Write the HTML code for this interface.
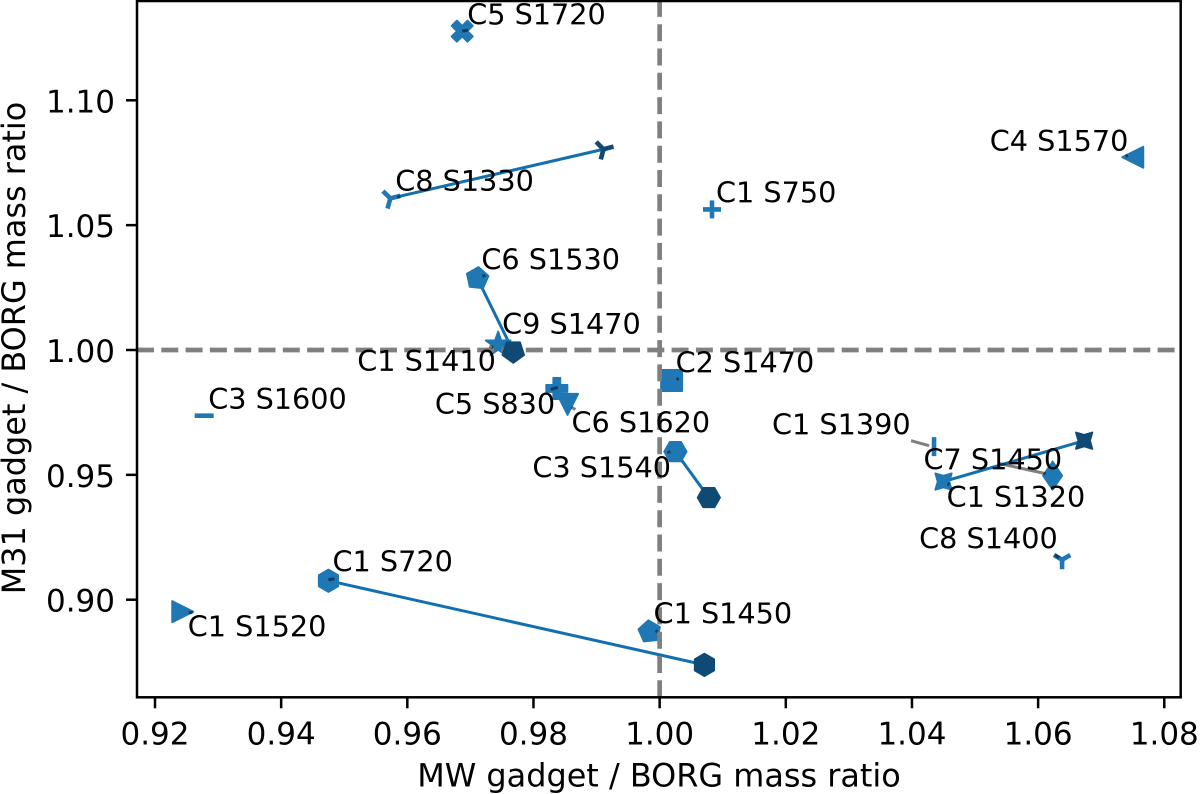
<!DOCTYPE html>
<html lang="en">
<head>
<meta charset="utf-8">
<title>M31 vs MW gadget / BORG mass ratio</title>
<style>
html,body{margin:0;padding:0;background:#fff;}
svg{display:block;font-family:"DejaVu Sans","Liberation Sans",sans-serif;}
</style>
</head>
<body>
<svg id="chart" width="1200" height="794" viewBox="0 0 1200 794" xmlns="http://www.w3.org/2000/svg"></svg>
<script>
const xTicks = [0.92, 0.94, 0.96, 0.98, 1.00, 1.02, 1.04, 1.06, 1.08];
const yTicks = [0.90, 0.95, 1.00, 1.05, 1.10];
const xTitle = 'MW gadget / BORG mass ratio';
const yTitle = 'M31 gadget / BORG mass ratio';
const pointLabels = ['C5 S1720','C8 S1330','C1 S750','C4 S1570','C6 S1530','C1 S1410','C9 S1470','C2 S1470','C5 S830','C6 S1620','C3 S1540','C1 S1390','C7 S1450','C1 S1320','C8 S1400','C1 S720','C1 S1520','C1 S1450','C3 S1600'];
const mwRatio  = [0.9687,0.9573,1.0083,1.0750,0.9711,0.9768,0.9744,1.0019,0.9837,0.9854,1.0025,1.0435,1.0450,1.0623,1.0638,0.9475,0.9244,0.9984,0.9278];
const m31Ratio = [1.1277,1.0607,1.0563,1.0772,1.0287,0.9994,1.0022,0.9878,0.9846,0.9782,0.9593,0.9613,0.9473,0.9497,0.9160,0.9076,0.8952,0.8872,0.9737];
const mwRatioEnd  = [null,0.9911,null,null,0.9768,null,null,null,null,null,1.0078,null,1.0673,null,null,1.0071,null,null,null];
const m31RatioEnd = [null,1.0804,null,null,0.9994,null,null,null,null,null,0.9409,null,0.9637,null,null,0.8739,null,null,null];
const markerKinds = ['x','y-rot','plus','left','pent-a','pent-c','star','square','P','down','hex-flat','vbar','star4','diamond','y','hex','right','pent-b','hbar'];

/* layout: label offset from its marker (dx, baseline dy), and leader stub offsets */
const labelLayout = {
 'C5 S1720':[5,-6.5,0,0,6,-1],'C8 S1330':[5,-7.5,7,-1,10,-2],'C1 S750':[4,-7,0,0,0,0],'C4 S1570':[-143,-6,-7,-1,-5,-2],
 'C6 S1530':[4,-9,5,-2,8,-3],'C1 S1410':[-156,19.5,-24,-5,-20,-4],'C9 S1470':[4,-10.5,0,0,0,0],'C2 S1470':[4,-8,5,-1,7,-2],
 'C5 S830':[-122,25.5,-6,1,1,-1],'C6 S1620':[4,28,4,3,8,5],'C3 S1540':[-143,26,-8,1,-5,0],'C1 S1390':[-162,-12,-23,-6,-5,-1],
 'C7 S1450':[-20,-12,4,2,6,3],'C1 S1320':[-106,31.5,-53,-12,-7,-2],'C8 S1400':[-143,-11,-7,-5,-3,-2],'C1 S720':[4,-9,0,-1,6,-2],
 'C1 S1520':[5,25,6,1,10,1],'C1 S1450':[4,-8,6,-1,8,0],'C3 S1600':[4,-6.5,0,0,0,0]
};

const NS = 'http://www.w3.org/2000/svg';
const svg = document.getElementById('chart');
const axLeft = 137, axRight = 1180.7, axTop = 1, axBottom = 697.3;
const xScale = v => 155 + (v - 0.92) * 6308;
const yScale = v => 350 - (v - 1) * 2497;
const BLUE = '#1f77b4', DARK = '#0f4a75', LINE = '#1270b0';

function make(tag, attrs, parent) {
  const el = document.createElementNS(NS, tag);
  for (const k in attrs) el.setAttribute(k, attrs[k]);
  (parent || svg).appendChild(el);
  return el;
}
function polyPts(r, n, rot) {
  const p = [];
  for (let i = 0; i < n; i++) {
    const a = (rot + i * 360 / n) * Math.PI / 180;
    p.push([r * Math.sin(a), -r * Math.cos(a)]);
  }
  return p;
}
function starPts(R, r, n, rot) {
  const p = [];
  for (let i = 0; i < n * 2; i++) {
    const a = (rot + i * 180 / n) * Math.PI / 180;
    const q = i % 2 ? r : R;
    p.push([q * Math.sin(a), -q * Math.cos(a)]);
  }
  return p;
}
function drawMarker(kind, cx, cy, color, name) {
  const g = make('g', {transform: 'translate(' + cx + ' ' + cy + ')'});
  
  
  const poly = pts => make('polygon', {points: pts.map(p => p[0].toFixed(2) + ',' + p[1].toFixed(2)).join(' '), fill: color, stroke: color, 'stroke-width': 1.8, 'stroke-linejoin': 'round'}, g);
  const lines = segs => segs.forEach(s => make('line', {x1: s[0], y1: s[1], x2: s[2], y2: s[3], stroke: color, 'stroke-width': 4.6, 'stroke-linecap': 'butt'}, g));
  const s = 10.6;
  switch (kind) {
    case 'x': poly([[-1,-2],[0,-1],[1,-2],[2,-1],[1,0],[2,1],[1,2],[0,1],[-1,2],[-2,1],[-1,0],[-2,-1]].map(p => [p[0]*s/2, p[1]*s/2])); break;
    case 'P': poly([[-1,-3],[1,-3],[1,-1],[3,-1],[3,1],[1,1],[1,3],[-1,3],[-1,1],[-3,1],[-3,-1],[-1,-1]].map(p => [p[0]*s/3, p[1]*s/3])); break;
    case 'plus': lines([[-9,0,9,0],[0,-9,0,9]]); break;
    case 'vbar': lines([[0,-9.5,0,9.5]]); break;
    case 'hbar': lines([[-9.5,0,9.5,0]]); break;
    case 'y': lines([[0,0,0,9.5],[0,0,-8.2,-4.7],[0,0,8.2,-4.7]]); break;
    case 'y-rot': g.setAttribute('transform', 'translate(' + cx + ' ' + cy + ') rotate(15)'); lines([[0,0,0,10.5],[0,0,-9,-5.2],[0,0,9,-5.2]]); break;
    case 'left': poly([[-s,0],[s,-s],[s,s]]); break;
    case 'right': poly([[s,0],[-s,-s],[-s,s]]); break;
    case 'down': poly([[0,s],[-s,-s],[s,-s]]); break;
    case 'square': poly([[-s,-s],[s,-s],[s,s],[-s,s]]); break;
    case 'pent-a': poly(polyPts(s + .8, 5, 78)); break;
    case 'pent-b': poly(polyPts(s + .8, 5, -6)); break;
    case 'pent-c': poly(polyPts(s + .8, 5, 180)); break;
    case 'hex': poly(polyPts(s + .6, 6, 0)); break;
    case 'hex-flat': poly(polyPts(s + .6, 6, 30)); break;
    case 'star': poly(starPts(s + 2.5, 5.2, 5, 0)); break;
    case 'star4': poly(starPts(s + 1, 5.8, 4, 45)); break;
    case 'diamond': poly([[0,-s-3.5],[s-1,0],[0,s+3.5],[-s+1,0]]); break;
  }
  return g;
}

/* connecting lines */
pointLabels.forEach((label, i) => {
  if (mwRatioEnd[i] === null) return;
  const ln = make('line', {x1: xScale(mwRatio[i]), y1: yScale(m31Ratio[i]), x2: xScale(mwRatioEnd[i]), y2: yScale(m31RatioEnd[i]), stroke: LINE, 'stroke-width': 3});
  
  
});
/* start markers */
pointLabels.forEach((label, i) => {
  if (label === 'C1 S1410') return;
  drawMarker(markerKinds[i], xScale(mwRatio[i]), yScale(m31Ratio[i]), BLUE, 'marker-' + label.toLowerCase().replace(' ', '-'));
});
/* reference lines */
const hRef = make('line', {x1: axLeft, y1: yScale(1), x2: axRight, y2: yScale(1), stroke: '#808080', 'stroke-width': 4.7, 'stroke-dasharray': '17 7.3'});


const vRef = make('line', {x1: xScale(1), y1: axBottom, x2: xScale(1), y2: axTop, stroke: '#808080', 'stroke-width': 4.7, 'stroke-dasharray': '17 7.3'});


/* end markers */
pointLabels.forEach((label, i) => {
  if (mwRatioEnd[i] === null) return;
  drawMarker(markerKinds[i] === 'pent-a' ? 'pent-c' : markerKinds[i], xScale(mwRatioEnd[i]), yScale(m31RatioEnd[i]), DARK, 'end-marker-' + label.toLowerCase().replace(' ', '-'));
});
/* leader stubs and labels */
pointLabels.forEach((label, i) => {
  const L = labelLayout[label];
  const px = xScale(mwRatio[i]), py = yScale(m31Ratio[i]);
  if (L[2] !== L[4] || L[3] !== L[5]) {
    const st = make('line', {x1: px + L[2], y1: py + L[3], x2: px + L[4], y2: py + L[5], stroke: 'rgba(0,0,0,0.5)', 'stroke-width': 3});
    
    
  }
  const t = make('text', {x: px + L[0], y: py + L[1], 'font-size': 28.7, fill: '#000'});
  t.textContent = label;
  
  
});
/* spines */
const frame = make('rect', {x: axLeft, y: axTop, width: axRight - axLeft, height: axBottom - axTop, fill: 'none', stroke: '#000', 'stroke-width': 2.5});


/* ticks */
xTicks.forEach(v => {
  const x = xScale(v);
  const tk = make('line', {x1: x, y1: axBottom, x2: x, y2: axBottom + 11, stroke: '#000', 'stroke-width': 2.5});
  
  
  const t = make('text', {x: x, y: 744.5, 'font-size': 31, 'text-anchor': 'middle', fill: '#000'});
  t.textContent = v.toFixed(2);
  
  
});
yTicks.forEach(v => {
  const y = yScale(v);
  const tk = make('line', {x1: axLeft, y1: y, x2: axLeft - 11, y2: y, stroke: '#000', 'stroke-width': 2.5});
  
  
  const t = make('text', {x: 115, y: y + 12, 'font-size': 31, 'text-anchor': 'end', fill: '#000'});
  t.textContent = v.toFixed(2);
  
  
});
const xt = make('text', {x: 659, y: 786.5, 'font-size': 31.9, 'text-anchor': 'middle', fill: '#000'});
xt.textContent = xTitle;


const yt = make('text', {x: 0, y: 0, 'font-size': 31.9, 'text-anchor': 'middle', fill: '#000', transform: 'translate(25 348) rotate(-90)'});
yt.textContent = yTitle;


</script>
</body>
</html>
